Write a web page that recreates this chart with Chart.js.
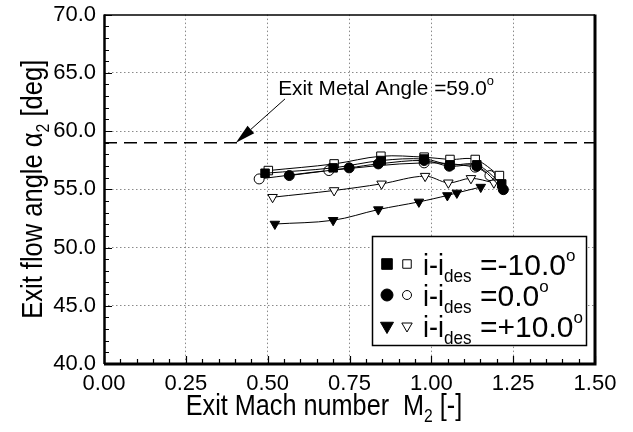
<!DOCTYPE html>
<html>
<head>
<meta charset="utf-8">
<script src="https://cdn.jsdelivr.net/npm/chart.js@4/dist/chart.umd.min.js"></script>
<style>
  html, body { margin: 0; padding: 0; background: #ffffff; }
  #wrap { width: 633px; height: 432px; }
</style>
</head>
<body>
<div id="wrap"><canvas id="chart" width="633" height="432"></canvas></div>
<script>
const FONT = "'Liberation Sans', Arial, Helvetica, sans-serif";

// Axis ranges and tick labels
const machTicks = [0.00, 0.25, 0.50, 0.75, 1.00, 1.25, 1.50];
const angleTicks = [40.0, 45.0, 50.0, 55.0, 60.0, 65.0, 70.0];

// Exit metal angle [deg]
const metalAngle = 59.0;

// i - i_des = -10.0 deg (filled squares)
const machNeg10A = [0.492, 0.700, 0.847, 0.978, 1.057, 1.139, 1.215];
const alphaNeg10A = [56.38, 56.84, 57.47, 57.60, 57.10, 57.10, 55.46];
// i - i_des = -10.0 deg (open squares)
const machNeg10B = [0.502, 0.703, 0.846, 0.978, 1.057, 1.134, 1.208];
const alphaNeg10B = [56.61, 57.18, 57.84, 57.76, 57.56, 57.56, 56.18];

// i - i_des = 0.0 deg (filled circles)
const machZeroA = [0.566, 0.749, 0.838, 0.978, 1.055, 1.139, 1.220];
const alphaZeroA = [56.18, 56.84, 57.18, 57.47, 56.98, 56.98, 54.97];
// i - i_des = 0.0 deg (open circles)
const machZeroB = [0.474, 0.687, 0.978, 1.134, 1.179];
const alphaZeroB = [55.89, 56.61, 57.27, 56.90, 56.18];

// i - i_des = +10.0 deg (filled triangles)
const machPos10A = [0.522, 0.700, 0.838, 0.962, 1.049, 1.078, 1.151];
const alphaPos10A = [52.02, 52.34, 53.26, 53.92, 54.47, 54.69, 55.19];
// i - i_des = +10.0 deg (open triangles)
const machPos10B = [0.515, 0.703, 0.848, 0.981, 1.052, 1.121, 1.191];
const alphaPos10B = [54.32, 54.90, 55.47, 56.13, 55.56, 55.94, 55.56];

// Legend entries
const legendValues = ['-10.0', '0.0', '+10.0'];
const legendStyles = ['rect', 'circle', 'triangle'];

function pts(xs, ys) { return xs.map((x, i) => ({ x: x, y: ys[i] })); }

function series(xs, ys, style, filled, radius) {
  return {
    data: pts(xs, ys),
    borderColor: '#000',
    borderWidth: 1,
    backgroundColor: filled ? '#000' : '#fff',
    pointStyle: style,
    pointRotation: style === 'triangle' ? 180 : 0,
    pointRadius: radius,
    pointBorderWidth: 1,
    pointBorderColor: '#000',
    pointBackgroundColor: filled ? '#000' : '#fff',
    tension: 0.35,
    fill: false
  };
}

// Draws a run of text segments (normal / subscript / superscript) with an
// optional horizontal condensing, anchored at (x, y) on the baseline.
function drawRich(ctx, segs, x, y, align, sx) {
  let total = 0;
  const widths = segs.map(s => {
    ctx.font = s.size + 'px ' + FONT;
    const w = ctx.measureText(s.text).width;
    total += w;
    return w;
  });
  let start = align === 'center' ? x - total * sx / 2 : x;
  ctx.save();
  ctx.translate(start, y);
  ctx.scale(sx, 1);
  ctx.textBaseline = 'alphabetic';
  ctx.textAlign = 'left';
  ctx.fillStyle = '#000';
  let cx = 0;
  segs.forEach((s, i) => {
    ctx.font = s.size + 'px ' + FONT;
    ctx.fillText(s.text, cx, s.dy || 0);
    cx += widths[i];
  });
  ctx.restore();
  return total * sx;
}

const decor = {
  id: 'decor',
  afterDatasetsDraw(chart) {
    const ctx = chart.ctx;
    const xs = chart.scales.x, ys = chart.scales.y;
    const a = chart.chartArea;

    // inward minor / major ticks on the bottom and left axes
    ctx.save();
    ctx.strokeStyle = '#000';
    ctx.lineWidth = 1.2;
    ctx.beginPath();
    for (let k = 0; k <= 30; k++) {
      const v = k * 0.05;
      const px = Math.round(xs.getPixelForValue(v)) + 0.5;
      const len = (k % 5 === 0) ? 8 : 5;
      ctx.moveTo(px, a.bottom);
      ctx.lineTo(px, a.bottom - len);
    }
    for (let k = 0; k <= 30; k++) {
      const v = 40 + k;
      const py = Math.round(ys.getPixelForValue(v)) + 0.5;
      const len = (k % 5 === 0) ? 8 : 5;
      ctx.moveTo(a.left, py);
      ctx.lineTo(a.left + len, py);
    }
    ctx.stroke();

    // plot frame
    ctx.lineWidth = 1.5;
    ctx.beginPath();
    ctx.moveTo(a.left, a.top + 0.5);
    ctx.lineTo(a.right, a.top + 0.5);
    ctx.stroke();
    ctx.lineWidth = 2.5;
    ctx.beginPath();
    ctx.moveTo(a.left + 0.5, a.top);
    ctx.lineTo(a.left + 0.5, a.bottom);
    ctx.stroke();
    ctx.lineWidth = 3;
    ctx.beginPath();
    ctx.moveTo(a.left, a.bottom);
    ctx.lineTo(a.right, a.bottom);
    ctx.moveTo(a.right, a.top);
    ctx.lineTo(a.right, a.bottom + 1.5);
    ctx.stroke();

    // metal angle annotation with arrow
    const tipX = xs.getPixelForValue(0.403), tipY = ys.getPixelForValue(metalAngle);
    const tailX = xs.getPixelForValue(0.553), tailY = ys.getPixelForValue(62.76);
    const ang = Math.atan2(tipY - tailY, tipX - tailX);
    const headLen = 20, headW = 5;
    const bx = tipX - headLen * Math.cos(ang), by = tipY - headLen * Math.sin(ang);
    ctx.lineWidth = 1;
    ctx.beginPath();
    ctx.moveTo(tailX, tailY);
    ctx.lineTo(bx, by);
    ctx.stroke();
    ctx.fillStyle = '#000';
    ctx.beginPath();
    ctx.moveTo(tipX, tipY);
    ctx.lineTo(bx + headW * Math.sin(ang), by - headW * Math.cos(ang));
    ctx.lineTo(bx - headW * Math.sin(ang), by + headW * Math.cos(ang));
    ctx.closePath();
    ctx.fill();
    drawRich(ctx, [
      { text: 'Exit Metal Angle =59.0', size: 21 },
      { text: 'o', size: 13, dy: -10 }
    ], xs.getPixelForValue(0.532), ys.getPixelForValue(63.1), 'left', 0.99);
    ctx.restore();
  },
  afterDraw(chart) {
    const ctx = chart.ctx;
    const a = chart.chartArea;
    ctx.save();

    // legend box
    const bw = 215, bh = 110;
    const bxr = a.right - 8, byb = a.bottom - 18;
    const bxl = bxr - bw, byt = byb - bh;
    ctx.fillStyle = '#fff';
    ctx.fillRect(bxl, byt, bw, bh);
    ctx.strokeStyle = '#000';
    ctx.lineWidth = 1.5;
    ctx.strokeRect(bxl + 0.5, byt + 0.5, bw - 1, bh - 1);

    const H = Chart.helpers;
    legendStyles.forEach((st, i) => {
      const base = byt + 39 + i * 31;
      const cy = base - 11;
      const rot = st === 'triangle' ? 180 : 0;
      ctx.fillStyle = '#000';
      ctx.strokeStyle = '#000';
      ctx.lineWidth = 1;
      H.drawPoint(ctx, { pointStyle: st, radius: st === 'circle' ? 6 : 7.5, rotation: rot, borderWidth: 1 }, bxl + 15, cy);
      ctx.fillStyle = '#fff';
      H.drawPoint(ctx, { pointStyle: st, radius: st === 'circle' ? 4.5 : 6, rotation: rot, borderWidth: 1 }, bxl + 35, cy);
      drawRich(ctx, [
        { text: 'i-i', size: 30 },
        { text: 'des', size: 19, dy: 7 }
      ], bxl + 51, base, 'left', 0.9);
      drawRich(ctx, [
        { text: '=' + legendValues[i], size: 30 },
        { text: 'o', size: 17, dy: -14 }
      ], bxl + 108, base, 'left', 1.0);
    });

    // axis titles
    drawRich(ctx, [
      { text: 'Exit Mach number  M', size: 29 },
      { text: '2', size: 18, dy: 7 },
      { text: ' [-]', size: 29 }
    ], 324, 415, 'center', 0.87);

    ctx.translate(42, (a.top + a.bottom) / 2);
    ctx.rotate(-Math.PI / 2);
    drawRich(ctx, [
      { text: 'Exit flow angle \u03b1', size: 29 },
      { text: '2', size: 18, dy: 7 },
      { text: ' [deg]', size: 29 }
    ], 0, 0, 'center', 0.88);
    ctx.restore();
  }
};

const metalLine = {
  data: [{ x: machTicks[0], y: metalAngle }, { x: machTicks[machTicks.length - 1], y: metalAngle }],
  borderColor: '#000',
  borderWidth: 1.5,
  borderDash: [13, 7],
  pointRadius: 0,
  tension: 0,
  fill: false
};

new Chart(document.getElementById('chart'), {
  type: 'line',
  data: {
    datasets: [
      series(machNeg10A, alphaNeg10A, 'rect', true, 6),
      series(machNeg10B, alphaNeg10B, 'rect', false, 6),
      series(machZeroA, alphaZeroA, 'circle', true, 5),
      series(machZeroB, alphaZeroB, 'circle', false, 5),
      series(machPos10B, alphaPos10B, 'triangle', false, 5.5),
      series(machPos10A, alphaPos10A, 'triangle', true, 5.5),
      metalLine
    ]
  },
  options: {
    responsive: false,
    animation: false,
    devicePixelRatio: 1,
    layout: { padding: { left: 0, right: 38, top: 8, bottom: 0 } },
    plugins: { legend: { display: false }, tooltip: { enabled: false } },
    scales: {
      x: {
        type: 'linear',
        min: machTicks[0],
        max: machTicks[machTicks.length - 1],
        afterBuildTicks: s => { s.ticks = machTicks.map(v => ({ value: v })); },
        afterFit: s => { s.height = 68; },
        ticks: {
          callback: v => Number(v).toFixed(2),
          font: { family: FONT, size: 22, lineHeight: 1 },
          color: '#000',
          padding: 9,
          maxRotation: 0,
          autoSkip: false
        },
        grid: {
          drawTicks: false,
          lineWidth: 1,
          color: c => (c.tick && (c.tick.value === machTicks[0] || c.tick.value === machTicks[machTicks.length - 1])) ? 'rgba(0,0,0,0)' : '#8a8a8a'
        },
        border: { display: false, dash: [1.5, 2.5] }
      },
      y: {
        type: 'linear',
        min: angleTicks[0],
        max: angleTicks[angleTicks.length - 1],
        afterBuildTicks: s => { s.ticks = angleTicks.map(v => ({ value: v })); },
        afterFit: s => { s.width = 104; },
        ticks: {
          callback: v => Number(v).toFixed(1),
          font: { family: FONT, size: 22, lineHeight: 0.6 },
          color: '#000',
          padding: 8,
          autoSkip: false
        },
        grid: {
          drawTicks: false,
          lineWidth: 1,
          color: c => (c.tick && (c.tick.value === angleTicks[0] || c.tick.value === angleTicks[angleTicks.length - 1])) ? 'rgba(0,0,0,0)' : '#8a8a8a'
        },
        border: { display: false, dash: [1.5, 2.5] }
      }
    }
  },
  plugins: [decor]
});
</script>
</body>
</html>
